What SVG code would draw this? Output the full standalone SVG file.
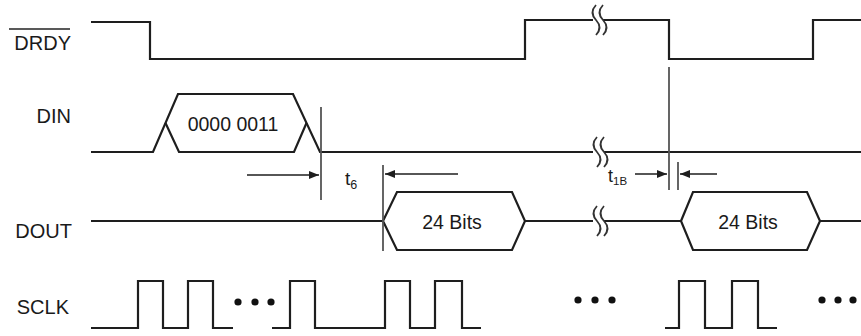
<svg xmlns="http://www.w3.org/2000/svg" width="861" height="336" viewBox="0 0 861 336">
<style>
.w{fill:none;stroke:#1e1e1e;stroke-width:2.2;stroke-linejoin:miter}
.m{fill:none;stroke:#555;stroke-width:1.8}
.a{fill:none;stroke:#1e1e1e;stroke-width:1.5}
.br{fill:none;stroke:#333;stroke-width:1.8}
.lb{font-family:"Liberation Sans",Arial,sans-serif;font-size:20px;fill:#1a1a1a}
.bx{font-family:"Liberation Sans",Arial,sans-serif;font-size:19.5px;fill:#1a1a1a;text-anchor:middle}
.t{font-family:"Liberation Sans",Arial,sans-serif;fill:#1a1a1a}
.d{fill:#111}
</style>
<defs>
<marker id="ah" viewBox="0 0 10 8" refX="10" refY="4" markerWidth="10" markerHeight="8" markerUnits="userSpaceOnUse" orient="auto">
<path d="M0,0 L10,4 L0,8 Z" fill="#1e1e1e"/>
</marker>
<path id="brk" d="M2,-15 q-7,7.5 0,15 q7,7.5 0,15"/>
</defs>
<rect width="861" height="336" fill="#fff"/>

<g id="drdy">
<text class="lb" x="71" y="50" text-anchor="end">DRDY</text>
<line x1="9" y1="29" x2="70" y2="29" stroke="#222" stroke-width="1.5"/>
<path class="w" d="M91,22 H150 V59 H525 V20 H593 M603,20 H669 V59 H813 V20 H861"/>
<use href="#brk" class="br" x="594" y="20"/>
<use href="#brk" class="br" x="601" y="20"/>
</g>

<g id="din">
<text class="lb" x="71" y="123" text-anchor="end">DIN</text>
<path class="w" d="M91,152 H153 L178,94 H293 L320,152 H593 M604,152 H861"/>
<path class="w" d="M165.5,123 L179,152 H294 L306.5,123"/>
<use href="#brk" class="br" x="595" y="152"/>
<use href="#brk" class="br" x="602" y="152"/>
<text class="bx" x="233" y="131">0000 0011</text>
</g>

<g id="dout">
<text class="lb" x="72" y="238" text-anchor="end">DOUT</text>
<path class="w" d="M91,221 H383 M525,221 H593 M604,221 H681 M820,221 H861"/>
<polygon class="w" points="383,221 397,192 512,192 525,221 512,250 397,250"/>
<polygon class="w" points="681,221 693,192 807,192 820,221 807,250 693,250"/>
<use href="#brk" class="br" x="595" y="221"/>
<use href="#brk" class="br" x="602" y="221"/>
<text class="bx" x="452" y="229">24 Bits</text>
<text class="bx" x="748" y="229">24 Bits</text>
</g>

<g id="sclk">
<text class="lb" x="69" y="314" text-anchor="end">SCLK</text>
<path class="w" d="M91,328 H138 V281 H163 V328 H188 V281 H213 V328 H233 M272,328 H290 V281 H315 V328 H385 V281 H410 V328 H435 V281 H462 V328 H481 M665,328 H679 V281 H705 V328 H732 V281 H758 V328 H777"/>
<circle class="d" cx="238" cy="302" r="3.6"/>
<circle class="d" cx="255" cy="302" r="3.6"/>
<circle class="d" cx="271" cy="302" r="3.6"/>
<circle class="d" cx="578" cy="300" r="3.6"/>
<circle class="d" cx="595" cy="300" r="3.6"/>
<circle class="d" cx="612" cy="300" r="3.6"/>
<circle class="d" cx="822" cy="300" r="3.6"/>
<circle class="d" cx="838" cy="300" r="3.6"/>
<circle class="d" cx="853" cy="300" r="3.6"/>
</g>

<g id="connectors">
<line class="m" x1="321" y1="107" x2="321" y2="200"/>
<line class="m" x1="383" y1="165" x2="383" y2="251"/>
<line class="m" x1="669" y1="67" x2="669" y2="190"/>
<line class="m" x1="678" y1="162" x2="678" y2="190"/>
<line class="a" x1="247" y1="175" x2="319" y2="175" marker-end="url(#ah)"/>
<line class="a" x1="458" y1="174" x2="385" y2="174" marker-end="url(#ah)"/>
<line class="a" x1="635" y1="174" x2="667" y2="174" marker-end="url(#ah)"/>
<line class="a" x1="717" y1="174" x2="680" y2="174" marker-end="url(#ah)"/>
<text class="t" x="345" y="185" font-size="19">t<tspan font-size="12.5" dy="4">6</tspan></text>
<text class="t" x="608" y="182" font-size="18">t<tspan font-size="11.5" dy="3">1B</tspan></text>
</g>
</svg>
